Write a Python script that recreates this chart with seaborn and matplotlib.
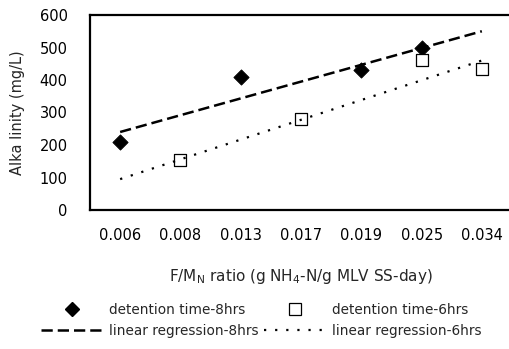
import numpy as np
import pandas as pd
import matplotlib.pyplot as plt
import seaborn as sns
from matplotlib.lines import Line2D

# =========================================================
# DATA
# =========================================================
fm_ratio = ["0.006", "0.008", "0.013", "0.017", "0.019", "0.025", "0.034"]

alk_8hrs = [210, np.nan, 408, np.nan, 431, 500, np.nan]
alk_6hrs = [np.nan, 154, np.nan, 279, np.nan, 462, 434]

# regression lines, end points (first / last ratio)
reg_x = [0, 6]
reg_8hrs = [240, 550]
reg_6hrs = [95, 460]

# =========================================================
# PLOT
# =========================================================
sns.set_style("white")
plt.rcParams["font.family"] = ["DejaVu Sans"]
plt.rcParams["mathtext.fontset"] = "dejavusans"

pos = np.arange(len(fm_ratio))
df8 = pd.DataFrame({"x": pos, "y": alk_8hrs}).dropna()
df6 = pd.DataFrame({"x": pos, "y": alk_6hrs}).dropna()
reg = pd.DataFrame({"x": reg_x, "y8": reg_8hrs, "y6": reg_6hrs})

dash8 = (0, (4.5, 2))
dot6 = (0, (1, 4))

fig = plt.figure(figsize=(5.09, 3.49), dpi=100)
ax = fig.add_axes([90 / 509, 1 - 210 / 349, (512 - 90) / 509, 195 / 349])

sns.lineplot(data=reg, x="x", y="y8", ax=ax, color="black", lw=1.8,
             linestyle=dash8)
sns.lineplot(data=reg, x="x", y="y6", ax=ax, color="black", lw=1.6,
             linestyle=dot6)
sns.scatterplot(data=df8, x="x", y="y", ax=ax, marker="D", s=60,
                color="black", edgecolor="black")
sns.scatterplot(data=df6, x="x", y="y", ax=ax, marker="s", s=75,
                facecolor="white", edgecolor="black", linewidth=0.9)

ax.set_xlim(-0.5, 6.5)
ax.set_ylim(0, 600)
ax.set_yticks(range(0, 601, 100))
ax.set_xticks(pos)
ax.set_xticklabels(fm_ratio)
ax.tick_params(axis="both", length=0, labelsize=10.5, colors="black")
ax.tick_params(axis="y", pad=16)
ax.tick_params(axis="x", pad=13)

for s in ["left", "top", "bottom"]:
    ax.spines[s].set_linewidth(1.6)
    ax.spines[s].set_color("black")
ax.spines["right"].set_visible(False)

ax.set_ylabel("Alka linity (mg/L)", fontsize=10.5)
ax.yaxis.set_label_coords(-0.155, 0.5)
ax.set_xlabel(r"F/M$_\mathregular{N}$ ratio (g NH$_\mathregular{4}$-N/g MLV SS-day)",
              fontsize=11)
ax.xaxis.set_label_coords(0.5, -0.29)

handles = [
    Line2D([], [], marker="D", color="black", ls="none", markersize=7),
    Line2D([], [], color="black", lw=1.8, ls=dash8),
    Line2D([], [], marker="s", color="black", mfc="white", ls="none",
           markersize=8, mew=0.9),
    Line2D([], [], color="black", lw=1.6, ls=dot6),
]
labels = ["detention time-8hrs", "linear regression-8hrs",
          "detention time-6hrs", "linear regression-6hrs"]
fig.legend(handles, labels, ncol=2, loc="upper center",
           bbox_to_anchor=(0.514, 1 - 296 / 349), frameon=False,
           fontsize=9.8, handlelength=4.5, handletextpad=0.5,
           columnspacing=0.4, labelspacing=0.5, borderpad=0)

fig.savefig("out.png", dpi=100)
